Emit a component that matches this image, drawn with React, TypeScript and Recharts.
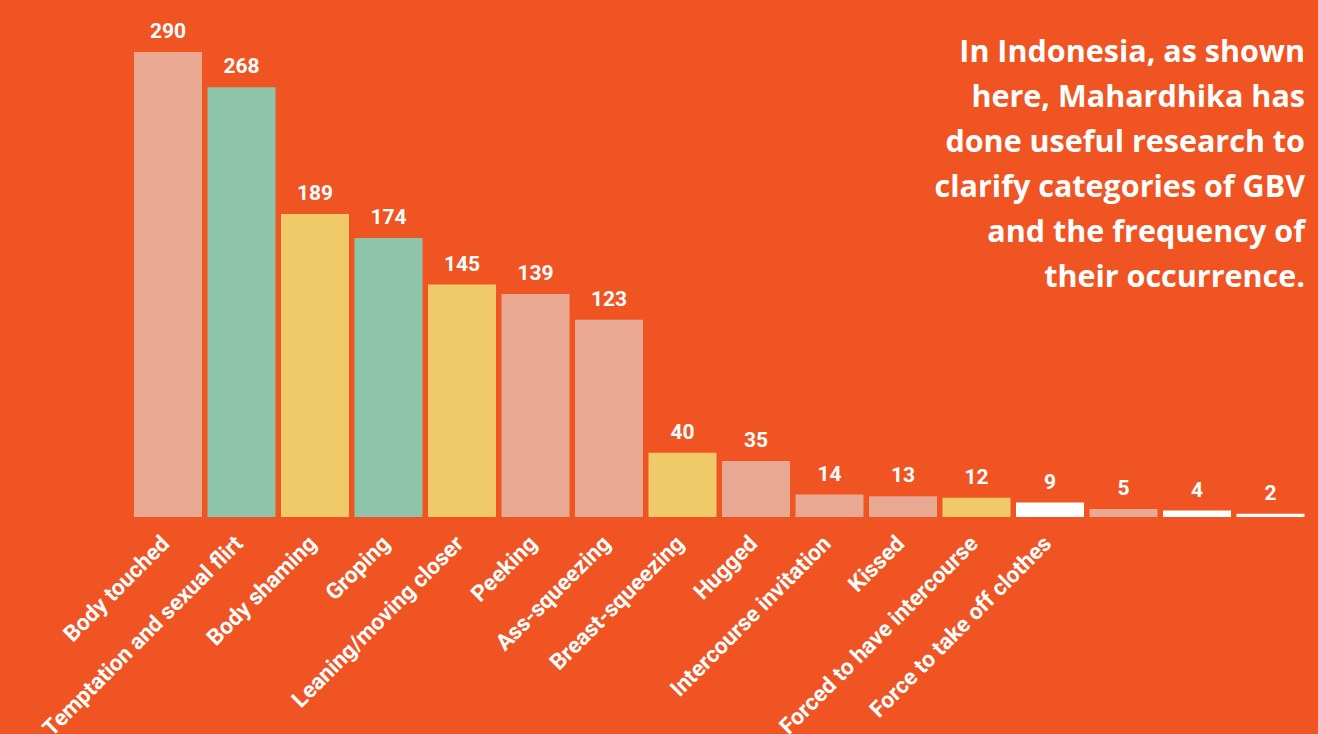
import React from 'react';
import { BarChart, Bar, XAxis, YAxis, Cell, LabelList } from 'recharts';

// Categories of GBV (last three bars carry no label in the source)
const categories = [
  'Body touched',
  'Temptation and sexual flirt',
  'Body shaming',
  'Groping',
  'Leaning/moving closer',
  'Peeking',
  'Ass-squeezing',
  'Breast-squeezing',
  'Hugged',
  'Intercourse invitation',
  'Kissed',
  'Forced to have intercourse',
  'Force to take off clothes',
  '',
  '',
  '',
];

const counts = [290, 268, 189, 174, 145, 139, 123, 40, 35, 14, 13, 12, 9, 5, 4, 2];

const SALMON = '#E9A891';
const TEAL = '#8EC4A9';
const YELLOW = '#F0CA69';
const WHITE = '#FFFFFF';

const barColors = [
  SALMON, TEAL, YELLOW, TEAL, YELLOW, SALMON, SALMON, YELLOW,
  SALMON, SALMON, SALMON, YELLOW, WHITE, SALMON, WHITE, WHITE,
];

const BG = '#F05423';

const noteLines = [
  'In Indonesia, as shown',
  'here, Mahardhika has',
  'done useful research to',
  'clarify categories of GBV',
  'and the frequency of',
  'their occurrence.',
];

const data = counts.map((v, i) => ({ label: categories[i], value: v, idx: i }));

const CategoryTick = (props: any) => {
  const { x, y, payload } = props;
  if (!payload?.value) return null;
  return (
    <g transform={`translate(${x + 3},${y + 20})`}>
      <text
        x={0}
        y={0}
        textAnchor="end"
        transform="rotate(-45)"
        fill="#fff"
        fontFamily="Roboto, sans-serif"
        fontWeight={700}
        fontSize={22.5}
      >
        {payload.value}
      </text>
    </g>
  );
};

export default function App() {
  return (
    <div
      style={{
        position: 'fixed',
        left: 0,
        top: 0,
        width: 1318,
        height: 734,
        background: BG,
        overflow: 'hidden',
      }}
    >
      <BarChart
        width={1318}
        height={734}
        data={data}
        margin={{ top: 52, right: 11, left: 131, bottom: 0 }}
        barCategoryGap={3}
      >
        <XAxis
          dataKey="label"
          interval={0}
          height={217}
          axisLine={false}
          tickLine={false}
          tick={<CategoryTick />}
        />
        <YAxis hide domain={[0, 290]} />
        <Bar dataKey="value" isAnimationActive={false}>
          {data.map((d) => (
            <Cell key={d.idx} fill={barColors[d.idx]} />
          ))}
          <LabelList
            dataKey="value"
            position="top"
            offset={14}
            fill="#fff"
            fontFamily="Roboto, sans-serif"
            fontWeight={700}
            fontSize={21}
          />
        </Bar>
      </BarChart>
      <div
        style={{
          position: 'absolute',
          right: 13,
          top: 28,
          textAlign: 'right',
          color: '#fff',
          fontFamily: '"Open Sans", sans-serif',
          fontWeight: 700,
          fontSize: 30.5,
          lineHeight: '45px',
        }}
      >
        {noteLines.map((l) => (
          <div key={l}>{l}</div>
        ))}
      </div>
    </div>
  );
}
